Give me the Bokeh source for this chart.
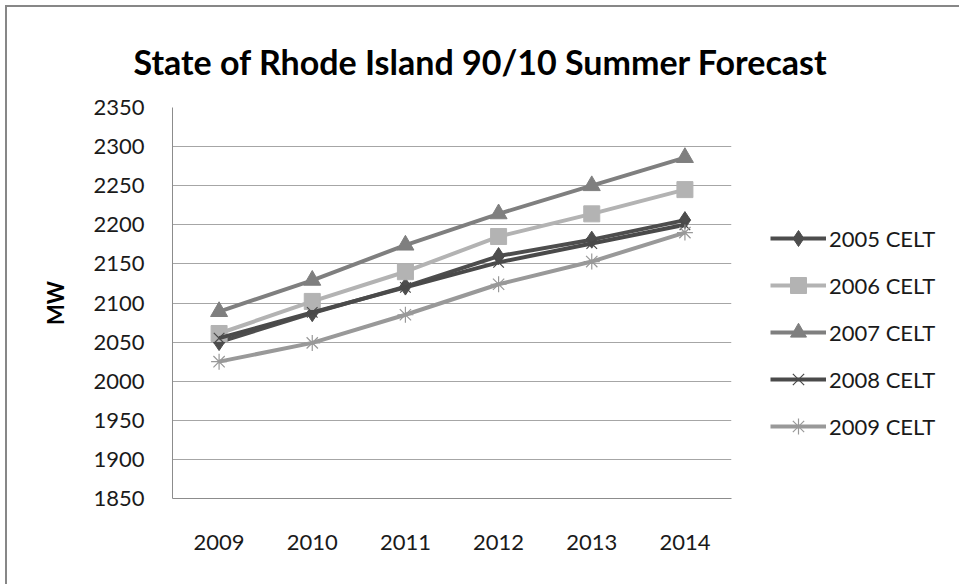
from bokeh.plotting import figure
from bokeh.models import Legend, LegendItem, FactorRange, Range1d, SingleIntervalTicker, Title
from bokeh.embed import file_html
from bokeh.resources import INLINE

years = ["2009", "2010", "2011", "2012", "2013", "2014"]
celt_2005 = [2050, 2087, 2121, 2160, 2181, 2206]
celt_2006 = [2061, 2102, 2140, 2185, 2214, 2245]
celt_2007 = [2089, 2129, 2174, 2214, 2250, 2286]
celt_2008 = [2055, 2088, 2120, 2152, 2176, 2200]
celt_2009 = [2025, 2049, 2085, 2124, 2153, 2190]
series_names = ["2005 CELT", "2006 CELT", "2007 CELT", "2008 CELT", "2009 CELT"]

FONT = "Lato"

p = figure(frame_width=559, frame_height=391, x_range=FactorRange(*years), y_range=Range1d(1850, 2350),
           output_backend="svg", toolbar_location=None,
           min_border_left=165, min_border_right=229, min_border_top=100, min_border_bottom=86)
p.styles = {"margin-left": "5px", "margin-top": "5px",
            "border-left": "2px solid #878787", "border-top": "2px solid #878787"}
p.outline_line_color = None
p.background_fill_color = "white"
p.border_fill_color = "white"

t = Title(text="State of Rhode Island 90/10 Summer Forecast", align="left",
          text_font=FONT, text_font_size="34px", text_font_style="bold", text_color="#000000",
          offset=-39, standoff=52)
p.add_layout(t, "above")

p.yaxis.ticker = SingleIntervalTicker(interval=50)
p.yaxis.axis_label = "MW"
p.yaxis.axis_label_text_font = FONT
p.yaxis.axis_label_text_font_size = "22px"
p.yaxis.axis_label_text_font_style = "bold"
p.yaxis.axis_label_text_color = "#000000"
p.yaxis.axis_label_standoff = 21
p.xaxis.major_label_text_font_size = "22px"
p.yaxis.major_label_text_font_size = "22px"
for ax in (p.xaxis, p.yaxis):
    ax.major_label_text_font = FONT
    ax.major_label_text_color = "#1a1a1a"
    ax.axis_line_color = "#8c8c8c"
    ax.axis_line_width = 1
    ax.major_tick_line_color = None
    ax.minor_tick_line_color = None
p.yaxis.major_label_standoff = 22
p.xaxis.major_label_standoff = 30
p.xgrid.grid_line_color = None
p.ygrid.grid_line_color = "#a6a6a6"
p.ygrid.grid_line_width = 1

colors = ["#4d4d4d", "#b3b3b3", "#7f7f7f", "#4a4a4a", "#999999"]
markers = ["diamond", "square", "triangle", "x", "asterisk"]
sizes = [17, 16, 17, 15, 16]
data = [celt_2005, celt_2006, celt_2007, celt_2008, celt_2009]

items = []
for name, vals, c, m, s in zip(series_names, data, colors, markers, sizes):
    r1 = p.line(years, vals, line_color=c, line_width=4)
    if m in ("x", "asterisk"):
        r2 = p.scatter(years, vals, marker=m, size=s, line_color=c, line_width=1.2)
    else:
        r2 = p.scatter(years, vals, marker=m, size=s, fill_color=c, line_color=c)
    items.append(LegendItem(label=name, renderers=[r1, r2]))

legend = Legend(items=items, location=(39, 52), orientation="vertical",
                label_text_font=FONT, label_text_font_size="22px", label_text_color="#1a1a1a",
                glyph_width=56, glyph_height=40, label_standoff=3, spacing=7,
                padding=0, margin=0, border_line_color=None, background_fill_alpha=0)
p.add_layout(legend, "right")

open("out.html", "w").write(file_html(p, INLINE))
